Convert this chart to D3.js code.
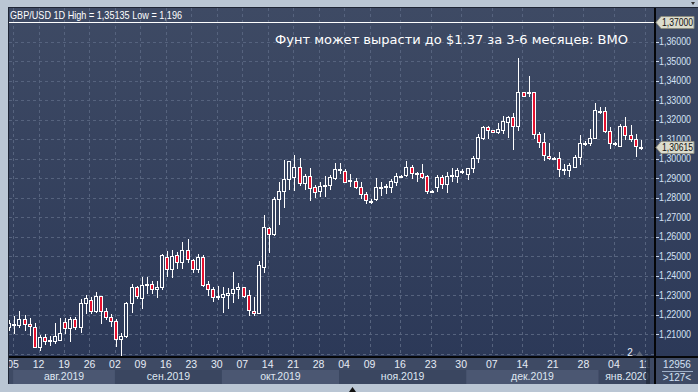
<!DOCTYPE html>
<html><head><meta charset="utf-8">
<script src="https://cdn.jsdelivr.net/npm/d3@7"></script>
<style>html,body{margin:0;padding:0;background:#bac6d4;overflow:hidden}</style>
</head><body>
<svg id="c" width="698" height="392"></svg>
<script>
// ---- data (GBP/USD daily candles, Aug 2019 - Jan 2020) ----
const open = [1.21344,1.2147,1.21477,1.21754,1.21497,1.21374,1.20349,1.20831,1.20626,1.20626,
1.20692,1.21600,1.21323,1.21754,1.21344,1.22575,1.22744,1.22195,1.22949,1.22180,
1.21857,1.21667,1.20728,1.20897,1.22575,1.23395,1.22862,1.2353,1.23549,1.23292,
1.23395,1.24964,1.24333,1.25051,1.24708,1.25308,1.24795,1.24333,1.24933,1.23549,
1.23308,1.2294,1.22913,1.23,1.23087,1.23308,1.23395,1.23,1.22195,1.22092,
1.24451,1.26421,1.26113,1.27923,1.28333,1.28949,1.29067,1.29579,1.28728,1.29118,
1.28554,1.28333,1.2861,1.28641,1.29015,1.2944,1.29359,1.2886,1.28862,1.28554,
1.28164,1.27836,1.27923,1.2854,1.2855,1.28554,1.28810,1.2905,1.29154,1.29549,
1.2927,1.29241,1.29103,1.2833,1.28554,1.29036,1.28677,1.2911,1.29118,1.2937,
1.29190,1.29497,1.30010,1.31067,1.31600,1.31446,1.31344,1.31462,1.31887,1.32113,
1.31682,1.33395,1.3341,1.33426,1.31241,1.30862,1.30144,1.3000,1.30010,1.2944,
1.29410,1.29579,1.30062,1.3080,1.30810,1.31036,1.3244,1.32451,1.31410,1.3077,
1.30656,1.31682,1.31190,1.30985,1.3060];
const high = [1.21718,1.21923,1.22180,1.21959,1.21805,1.21549,1.20933,1.21,1.20897,1.21549,
1.21805,1.21805,1.21857,1.21857,1.22795,1.22985,1.22882,1.23154,1.22949,1.22318,
1.22026,1.21754,1.21036,1.22657,1.23564,1.23462,1.23908,1.23908,1.23734,1.23734,
1.25103,1.25256,1.25308,1.25190,1.25703,1.25872,1.24846,1.25087,1.25051,1.23718,
1.23426,1.23477,1.23426,1.23344,1.24164,1.23600,1.23426,1.23256,1.22913,1.24744,
1.27103,1.26503,1.28041,1.28810,1.29923,1.29872,1.30179,1.30010,1.29190,1.29528,
1.28641,1.28810,1.29103,1.29154,1.29754,1.29754,1.29446,1.29190,1.28985,1.28779,
1.28267,1.2790,1.28985,1.28779,1.28677,1.28949,1.29241,1.2913,1.29872,1.29667,
1.2929,1.29718,1.29154,1.2838,1.29154,1.29154,1.29292,1.29528,1.29497,1.2948,
1.29528,1.30144,1.31241,1.31667,1.31667,1.3146,1.31805,1.32179,1.32195,1.32349,
1.35135,1.3340,1.34231,1.33426,1.31374,1.31323,1.30810,1.3007,1.30318,1.29718,
1.29754,1.30179,1.31205,1.3090,1.31497,1.32862,1.32657,1.32657,1.31600,1.3086,
1.31769,1.32113,1.31718,1.31241,1.30949];
const low = [1.21205,1.21036,1.21344,1.21205,1.20949,1.20318,1.20179,1.20487,1.20421,1.20554,
1.20692,1.21036,1.20656,1.21241,1.21118,1.22062,1.22062,1.22144,1.21580,1.21754,
1.21426,1.20400,1.1960,1.20862,1.22144,1.22831,1.22349,1.23118,1.23118,1.22882,
1.23292,1.23974,1.23938,1.24400,1.24400,1.24677,1.24164,1.24195,1.23477,1.23000,
1.22692,1.22795,1.22113,1.22318,1.22656,1.22831,1.22913,1.21974,1.21974,1.22062,
1.24164,1.25190,1.26077,1.26626,1.27528,1.28436,1.28385,1.28641,1.28436,1.27872,
1.28041,1.28092,1.28092,1.28436,1.28949,1.29241,1.28779,1.28605,1.28472,1.27990,
1.27703,1.2772,1.27872,1.28128,1.28215,1.28267,1.28641,1.2903,1.29118,1.29015,
1.28846,1.28985,1.28246,1.2830,1.28333,1.28472,1.28297,1.28862,1.28810,1.2928,
1.28949,1.29323,1.29836,1.31,1.31036,1.3135,1.31292,1.31323,1.31087,1.30503,
1.31462,1.3322,1.33205,1.31036,1.30605,1.29923,1.29974,1.2996,1.29103,1.29205,
1.29118,1.29549,1.29703,1.3070,1.30692,1.31036,1.32349,1.31374,1.30554,1.3069,
1.30656,1.30985,1.30913,1.30128,1.30487];
const close = [1.21580,1.2149,1.21754,1.21497,1.21395,1.20349,1.20831,1.20626,1.2068,1.20882,
1.21067,1.21323,1.21754,1.21344,1.22575,1.22831,1.22195,1.22949,1.22164,1.21857,
1.21682,1.20728,1.20897,1.22605,1.23395,1.22949,1.23513,1.2357,1.23292,1.23395,
1.25051,1.24323,1.25015,1.24708,1.25308,1.24846,1.24333,1.24933,1.23513,1.23308,
1.22913,1.2296,1.23036,1.23087,1.23308,1.23395,1.22964,1.22231,1.22062,1.24538,
1.26503,1.26113,1.27923,1.28333,1.28949,1.29872,1.29579,1.28728,1.29118,1.28503,
1.28267,1.28605,1.2863,1.29067,1.29446,1.2946,1.28810,1.2888,1.28554,1.28164,
1.27872,1.27754,1.28554,1.2856,1.2857,1.28846,1.29118,1.2911,1.29549,1.29272,
1.2928,1.29067,1.28333,1.2835,1.29036,1.28677,1.29118,1.2913,1.29410,1.2938,
1.29497,1.30041,1.31118,1.31600,1.31462,1.31359,1.31497,1.31923,1.32113,1.31682,
1.33426,1.33221,1.3343,1.31256,1.30862,1.30179,1.30041,1.3002,1.29446,1.2946,
1.29667,1.30062,1.30779,1.3082,1.31036,1.32487,1.3246,1.31410,1.30779,1.3079,
1.31682,1.31190,1.30985,1.30656,1.30615];

const dayTickIndex  = [1,6,11,16,21,26,31,36,41,46,51,56,61,66,71,77,83,89,95,101,107,113,119,125];
const dayTickLabels = ["05","12","19","26","02","09","16","23","30","07","14","21","28","04","09","16","23","30","07","14","21","28","04","11"];
const monthStartIndex = [1,21,42,65,90,116];
const monthLabels = ["авг.2019","сен.2019","окт.2019","ноя.2019","дек.2019","янв.2020"];
const priceTicks = [1.20,1.21,1.22,1.23,1.24,1.25,1.26,1.27,1.28,1.29,1.30,1.31,1.32,1.33,1.34,1.35,1.36];
const levelPrice = 1.37;
const lastPrice = 1.30615;
const headerText = "GBP/USD 1D High = 1,35135 Low = 1,196";
const noteText = "Фунт может вырасти до $1.37 за 3-6 месяцев: BMO";
const barsInfo = ["12956", ">127<"];
const pageMarker = "2";

// ---- layout ----
const W = 698, H = 392;
const P = {l: 9, t: 8, r: 655, b: 357, axisB: 384};
const svg = d3.select("#c");
const defs = svg.append("defs");
const grad = defs.append("linearGradient").attr("id","bg").attr("gradientUnits","userSpaceOnUse")
  .attr("x1",0).attr("y1",P.t).attr("x2",0).attr("y2",P.b);
grad.append("stop").attr("offset","0").attr("stop-color","#3e4a64");
grad.append("stop").attr("offset","1").attr("stop-color","#2c3958");
defs.append("clipPath").attr("id","plotClip").append("rect")
  .attr("x",P.l).attr("y",P.t).attr("width",P.r-P.l).attr("height",P.b-P.t);
defs.append("clipPath").attr("id","axisClip").append("rect")
  .attr("x",P.l).attr("y",P.b).attr("width",P.r-P.l).attr("height",P.axisB-P.b);

const x = d3.scaleLinear().domain([0, 124]).range([9.3, 640.7]);
const y = d3.scaleLinear().domain([1.21, 1.37]).range([334, 22]);
const step = x(1) - x(0);
const tx = i => x(i) - step * 0.25;   // period boundary position

// frame
svg.append("rect").attr("x",0).attr("y",0).attr("width",W).attr("height",H).attr("fill","#bac6d4");
svg.append("rect").attr("x",P.l-1).attr("y",P.t-1).attr("width",W-P.l+1).attr("height",P.axisB-P.t+1).attr("fill","#1e2535");
svg.append("rect").attr("x",P.l).attr("y",P.t).attr("width",W-P.l).attr("height",P.b-P.t).attr("fill","url(#bg)");

// date axis background + month bands
svg.append("rect").attr("x",P.l).attr("y",P.b).attr("width",W-P.l).attr("height",P.axisB-P.b).attr("fill","#3e4a64");
const ax = svg.append("g").attr("clip-path","url(#axisClip)");
monthStartIndex.forEach((s,k) => {
  const x0 = tx(s), x1 = k < monthStartIndex.length-1 ? tx(monthStartIndex[k+1]) : P.r;
  ax.append("rect").attr("x",x0).attr("y",370).attr("width",x1-x0).attr("height",P.axisB-370)
    .attr("fill", k % 2 === 0 ? "#4b5772" : "#3a4660");
  ax.append("text").attr("x",(x0+x1)/2).attr("y",380).attr("text-anchor","middle")
    .attr("font-family","Liberation Sans, Arial, sans-serif").attr("font-size",10.5)
    .attr("fill","#dfe6f1").text(monthLabels[k]);
});
dayTickIndex.forEach((t,k) => {
  ax.append("text").attr("x",tx(t)).attr("y",368).attr("text-anchor","middle")
    .attr("font-family","Liberation Sans, Arial, sans-serif").attr("font-size",10.5)
    .attr("fill","#e6ecf5").text(dayTickLabels[k]);
});
// scroll marker
svg.append("rect").attr("x",646).attr("y",P.b).attr("width",4).attr("height",P.axisB-P.b).attr("fill","#252d3e").attr("opacity",0.85);

// grid
const grid = svg.append("g").attr("clip-path","url(#plotClip)");
priceTicks.forEach(p => {
  const yy = Math.round(y(p)) + 0.5;
  grid.append("line").attr("x1",P.l).attr("x2",P.r).attr("y1",yy).attr("y2",yy)
    .attr("stroke","#56637e").attr("stroke-dasharray","3,3");
});
dayTickIndex.forEach(t => {
  const xx = Math.round(tx(t)) + 0.5;
  grid.append("line").attr("x1",xx).attr("x2",xx).attr("y1",P.t).attr("y2",P.b)
    .attr("stroke","#56637e").attr("stroke-dasharray","3,3");
});

// level line 1.37
svg.append("line").attr("x1",P.l).attr("x2",P.r).attr("y1",Math.round(y(levelPrice))+0.5).attr("y2",Math.round(y(levelPrice))+0.5)
  .attr("stroke","#ffffff").attr("stroke-width",1);

// candles
const cg = svg.append("g").attr("clip-path","url(#plotClip)");
d3.range(open.length).forEach(i => {
  const cx = Math.round(x(i)) + 0.5;
  const up = close[i] >= open[i];
  cg.append("line").attr("x1",cx).attr("x2",cx)
    .attr("y1",Math.round(y(high[i]))).attr("y2",Math.round(y(low[i]))+1)
    .attr("stroke","#ffffff").attr("stroke-width",1);
  let top = Math.round(y(Math.max(open[i],close[i])));
  let bot = Math.round(y(Math.min(open[i],close[i])));
  if (bot - top < 1) bot = top + 1;
  cg.append("rect").attr("x",cx-2).attr("y",top+0.5).attr("width",3).attr("height",bot-top)
    .attr("fill", up ? "url(#bg)" : "#e5102e").attr("stroke","#ffffff").attr("stroke-width",1);
});

// axis lines
svg.append("line").attr("x1",P.l).attr("x2",W).attr("y1",P.b).attr("y2",P.b).attr("stroke","#050608").attr("stroke-width",2);
svg.append("line").attr("x1",P.r).attr("x2",P.r).attr("y1",P.t).attr("y2",P.axisB).attr("stroke","#050608").attr("stroke-width",2);

// right axis ticks/labels
const fmt = p => d3.format(".5f")(p).replace(".", ",");
priceTicks.filter(p => p >= 1.21).forEach(p => {
  const yy = Math.round(y(p)) + 0.5;
  svg.append("line").attr("x1",P.r+1).attr("x2",P.r+4).attr("y1",yy).attr("y2",yy).attr("stroke","#c8d6ec");
  svg.append("text").attr("x",659).attr("y",y(p)+3.6)
    .attr("font-family","Liberation Sans, Arial, sans-serif").attr("font-size",10)
    .attr("textLength",32).attr("lengthAdjust","spacingAndGlyphs")
    .attr("fill","#d3e1f4").text(fmt(p));
});
// price tags
function tag(p){
  const yy = Math.round(y(p)) + 0.5;
  svg.append("path").attr("d",`M656,${yy} L661,${yy-6} L694,${yy-6} L694,${yy+6} L661,${yy+6} Z`)
    .attr("fill","#dcdccd").attr("stroke","#8c8c80").attr("stroke-width",1);
  svg.append("text").attr("x",662).attr("y",yy+3.6)
    .attr("font-family","Liberation Sans, Arial, sans-serif").attr("font-size",10)
    .attr("textLength",31).attr("lengthAdjust","spacingAndGlyphs")
    .attr("fill","#111").text(fmt(p));
}
tag(levelPrice);
tag(lastPrice);

// bottom-right info
svg.append("text").attr("x",677).attr("y",368).attr("text-anchor","middle")
  .attr("font-family","Liberation Sans, Arial, sans-serif").attr("font-size",10).attr("fill","#d3e1f4").text(barsInfo[0]);
svg.append("line").attr("x1",662).attr("x2",693).attr("y1",371.5).attr("y2",371.5).attr("stroke","#9fb0c8");
svg.append("text").attr("x",677).attr("y",381).attr("text-anchor","middle")
  .attr("font-family","Liberation Sans, Arial, sans-serif").attr("font-size",10).attr("fill","#d3e1f4").text(barsInfo[1]);

// page marker
svg.append("text").attr("x",630).attr("y",356).attr("text-anchor","middle")
  .attr("font-family","Liberation Sans, Arial, sans-serif").attr("font-size",10).attr("fill","#e8eef8").text(pageMarker);
svg.append("path").attr("d","M636,356 L639.5,351 L643,356 Z").attr("fill","#5d6678");

// header & note
svg.append("text").attr("x",10).attr("y",19)
  .attr("font-family","Liberation Sans, Arial, sans-serif").attr("font-size",11)
  .attr("textLength",172).attr("lengthAdjust","spacingAndGlyphs")
  .attr("fill","#ffffff").text(headerText);
svg.append("text").attr("x",275).attr("y",43.5)
  .attr("font-family","DejaVu Sans, Verdana, sans-serif").attr("font-size",13)
  .attr("textLength",353).attr("lengthAdjust","spacingAndGlyphs")
  .attr("fill","#ffffff").text(noteText);

// small frame glyphs
svg.append("path").attr("d","M349,392 L352.5,387 L356,392 Z").attr("fill","#111");
svg.append("path").attr("d","M691,2 L695,2 L693,5 Z").attr("fill","#333");
</script>
</body></html>
